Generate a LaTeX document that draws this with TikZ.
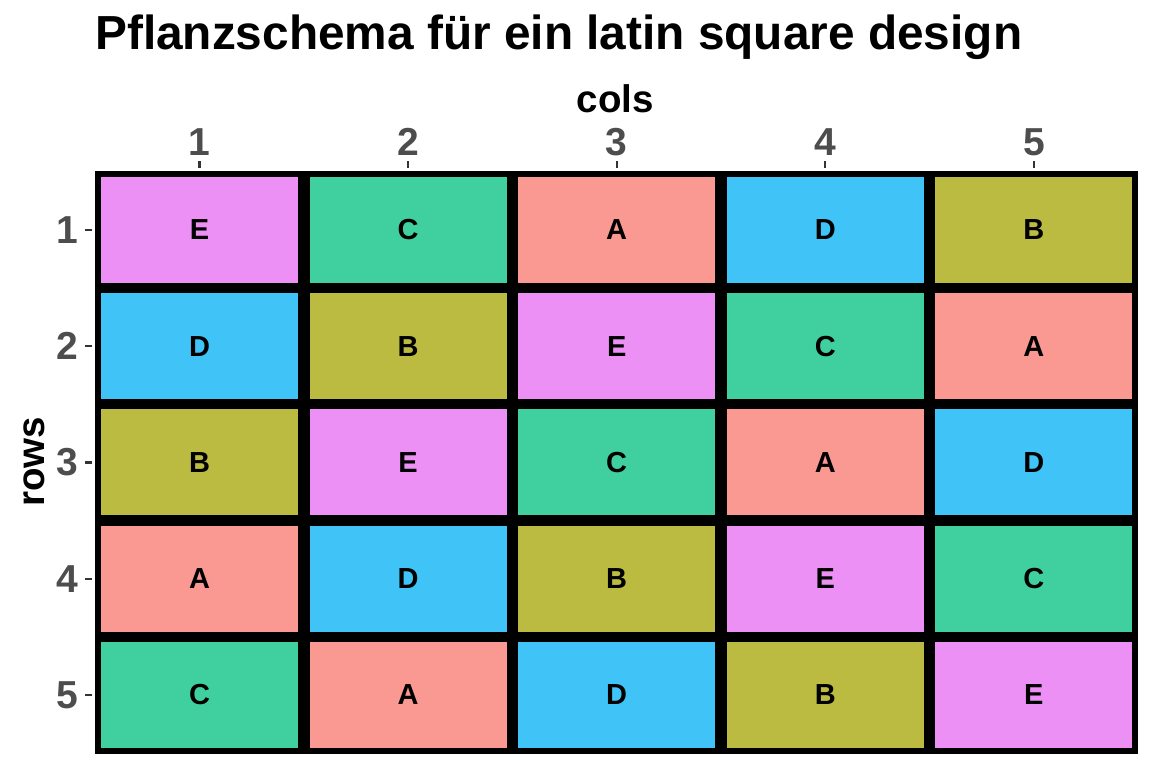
\documentclass[tikz,border=0pt]{standalone}
\usepackage{fontspec}
\setmainfont{Liberation Sans}
\definecolor{cA}{HTML}{FA9892}
\definecolor{cB}{HTML}{BABB40}
\definecolor{cC}{HTML}{40CF9E}
\definecolor{cD}{HTML}{40C4F8}
\definecolor{cE}{HTML}{ED90F6}
\definecolor{tickgray}{HTML}{333333}
\definecolor{labgray}{HTML}{4D4D4D}
\tikzset{
  cell/.style={draw=black, line width=6pt, minimum width=203pt, minimum height=112pt,
    inner sep=0pt, font=\fontsize{29}{31}\selectfont\bfseries, text=black},
  tickmark/.style={draw=tickgray, line width=2.2pt},
  ticklab/.style={font=\fontsize{39}{42}\selectfont\bfseries, text=labgray, inner sep=0pt},
  axtitle/.style={font=\fontsize{38.5}{42}\selectfont\bfseries, text=black, inner sep=0pt},
  maintitle/.style={font=\fontsize{47.8}{52}\selectfont\bfseries, text=black, inner sep=0pt}
}
\begin{document}
\begin{tikzpicture}[x=1pt,y=-1pt]
\useasboundingbox (0,0) rectangle (1152,768);
\node[maintitle, anchor=base west] (title) at (95,50) {Pflanzschema für ein latin square design};
\node[axtitle, anchor=base] (cols) at (615.5,112.3) {cols};
\node[axtitle, anchor=base, rotate=90] (rows) at (45,462) {rows};
% cells
\foreach \r/\row in {1/{E,C,A,D,B},2/{D,B,E,C,A},3/{B,E,C,A,D},4/{A,D,B,E,C},5/{C,A,D,B,E}} {
  \foreach \t [count=\c] in \row {
    \node[cell, fill=c\t] (cell\r\c) at ({199.5+208.6*(\c-1)},{230+116.2*(\r-1)}) {\t};
  }
}
% column ticks and labels
\foreach \c in {1,...,5} {
  \coordinate (ct\c) at ([yshift=3pt]cell1\c.north);
  \draw[tickmark] (ct\c) -- ++(0,-7.5);
  \node[ticklab, anchor=base] (cl\c) at ([yshift=13pt]ct\c) {\c};
}
% row ticks and labels
\foreach \r in {1,...,5} {
  \coordinate (rt\r) at ([xshift=-3pt]cell\r1.west);
  \draw[tickmark] (rt\r) -- ++(-7.5,0);
  \node[ticklab, anchor=east] (rl\r) at ([xshift=-14pt]rt\r) {\r};
}
\end{tikzpicture}
\end{document}
